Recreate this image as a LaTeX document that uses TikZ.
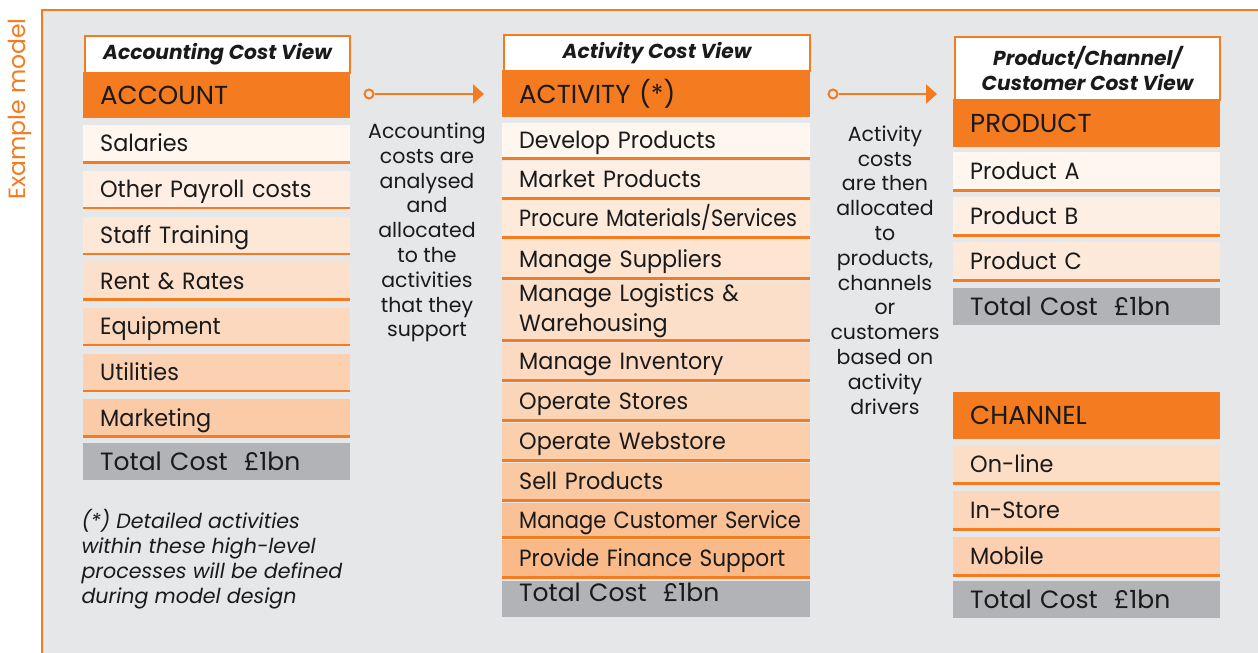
\documentclass[tikz,border=0pt]{standalone}
\usepackage{graphicx}
\usepackage{fontspec}
\setmainfont{Poppins}
\newfontfamily\itemfont{Poppins}[FakeStretch=0.95]
\usetikzlibrary{arrows.meta}
\definecolor{orng}{HTML}{F47B20}
\definecolor{bgc}{HTML}{E6E7E9}
\definecolor{totc}{HTML}{B1B3B6}
\definecolor{txtc}{HTML}{1A1A1A}
\tikzset{
  hdrbox/.style={draw=orng, line width=2pt, fill=white, inner sep=0pt, anchor=north west, align=center, text=txtc,
    font=\fontsize{20.2}{25.5}\selectfont\bfseries\itshape},
  bandbox/.style={fill=orng, inner sep=0pt, anchor=north west, align=left, text=txtc,
    font=\fontsize{26}{30}\selectfont},
  itembox/.style={inner sep=0pt, anchor=north west, align=left, text=txtc,
    font=\itemfont\fontsize{23.5}{30}\selectfont},
  oneline/.style={text height=22pt, text depth=5.6pt},
  totbox/.style={fill=totc, inner sep=0pt, anchor=north west, align=left, text=txtc,
    font=\fontsize{25}{30}\selectfont},
  orline/.style={draw=orng, line width=2.5pt},
  desc/.style={align=center, text=txtc, font=\fontsize{20.5}{24.8}\selectfont},
  dot/.style={circle, draw=orng, line width=2pt, fill=bgc, minimum size=9pt, inner sep=0pt},
  flow/.style={draw=orng, line width=2pt, -{Triangle[length=11pt,width=19pt]}},
}
\newcommand{\ind}{\hspace*{17pt}}
\newcommand{\tot}{\ind Total Cost\hspace{0.65em}£1bn}
\begin{document}
\begin{tikzpicture}[x=1pt,y=-1pt]
\useasboundingbox (0,0) rectangle (1258,653);
\fill[bgc] (43,11) rectangle (1258,653);
\draw[orng, line width=2pt] (42,653) -- (42,10) -- (1258,10);
\node[rotate=90, text=orng, font=\fontsize{23.5}{28}\selectfont] (ex) at (20,109) {Example model};

% ---------- Column 1 ----------
\node[hdrbox, minimum width=265pt, minimum height=37pt] (h1) at (84,35) {Accounting Cost View};
\node[bandbox, text width=267pt, minimum height=46pt] (b1) at (83,72) {\ind ACCOUNT};
\foreach \i/\t/\p in {0/Salaries/7, 1/Other Payroll costs/12.5, 2/Staff Training/18, 3/Rent \& Rates/23.5,
                      4/Equipment/29, 5/Utilities/34.5, 6/Marketing/40}{
  \node[itembox, oneline, fill=orng!\p!white, text width=267pt, minimum height=37pt] (a\i) at (83,125+45.7*\i) {\ind\mbox{\t}};
  \draw[orline] (a\i.south west) -- (a\i.south east);
}
\node[totbox, text width=267pt, minimum height=37pt] (t1) at (83,443) {\tot};
\node[anchor=west, align=left, text=txtc, font=\fontsize{20.6}{25}\selectfont\itshape] (fn) at (78,559.5)
  {(*) Detailed activities\\within these high-level\\processes will be defined\\during model design};

% ---------- Column 2 ----------
\node[hdrbox, minimum width=306pt, minimum height=36pt] (h2) at (503,34) {Activity Cost View};
\node[bandbox, text width=308pt, minimum height=47pt] (b2) at (502,70) {\ind ACTIVITY (*)};
\foreach \i/\y/\h/\t/\p/\s in {0/123/35/Develop Products/7/1, 1/161/37/Market Products/12/1,
    2/200/37/{Procure Materials/Services}/16/0.93, 3/240/38/Manage Suppliers/20/1,
    5/343/37/Manage Inventory/28/1,
    6/383/37/Operate Stores/32/1, 7/423/37/Operate Webstore/37/1, 8/463/37/Sell Products/42/1,
    9/503/34/Manage Customer Service/47/0.94, 10/540/37/Provide Finance Support/53/0.97}{
  \node[itembox, oneline, fill=orng!\p!white, text width=308pt, minimum height=\h pt] (c\i) at (502,\y) {\ind\scalebox{\s}[1]{\t}};
  \draw[orline] (c\i.south west) -- (c\i.south east);
}
\node[itembox, fill=orng!24!white, text width=308pt, minimum height=59pt] (c4) at (502,281)
  {\ind Manage Logistics \&\\\ind Warehousing};
\draw[orline] (c4.south west) -- (c4.south east);
\node[totbox, text width=308pt, minimum height=36pt, text depth=14pt] (t2) at (502,581) {\tot};

% ---------- Column 3 ----------
\node[hdrbox, minimum width=265pt, minimum height=63pt] (h3) at (954,36) {Product/Channel/\\Customer Cost View};
\node[bandbox, text width=267pt, minimum height=48pt] (b3) at (953,99) {\ind PRODUCT};
\foreach \i/\y/\t/\p in {0/152/Product A/7, 1/197/Product B/12, 2/242/Product C/17}{
  \node[itembox, oneline, fill=orng!\p!white, text width=267pt, minimum height=38pt] (p\i) at (953,\y) {\ind\t};
  \draw[orline] (p\i.south west) -- (p\i.south east);
}
\node[totbox, text width=267pt, minimum height=37pt] (t3) at (953,288) {\tot};
\node[bandbox, text width=267pt, minimum height=47pt] (b4) at (953,392) {\ind CHANNEL};
\foreach \i/\y/\t/\p in {0/445/On-line/25, 1/491/In-Store/30, 2/537/Mobile/36}{
  \node[itembox, oneline, fill=orng!\p!white, text width=267pt, minimum height=38pt] (q\i) at (953,\y) {\ind\t};
  \draw[orline] (q\i.south west) -- (q\i.south east);
}
\node[totbox, text width=267pt, minimum height=37pt] (t4) at (953,581) {\tot};

% ---------- Arrows and descriptions ----------
\node[dot] (d1) at (369,94) {};
\coordinate (e1) at (484,94);
\draw[flow] (d1) -- (e1);
\node[dot] (d2) at (833,94) {};
\coordinate (e2) at (937,94);
\draw[flow] (d2) -- (e2);
\node[desc] (x1) at (427,232.5) {Accounting\\costs are\\analysed\\and\\allocated\\to the\\activities\\that they\\support};
\node[desc] (x2) at (885,270) {Activity\\costs\\are then\\allocated\\to\\products,\\channels\\or\\customers\\based on\\activity\\drivers};
\end{tikzpicture}
\end{document}
